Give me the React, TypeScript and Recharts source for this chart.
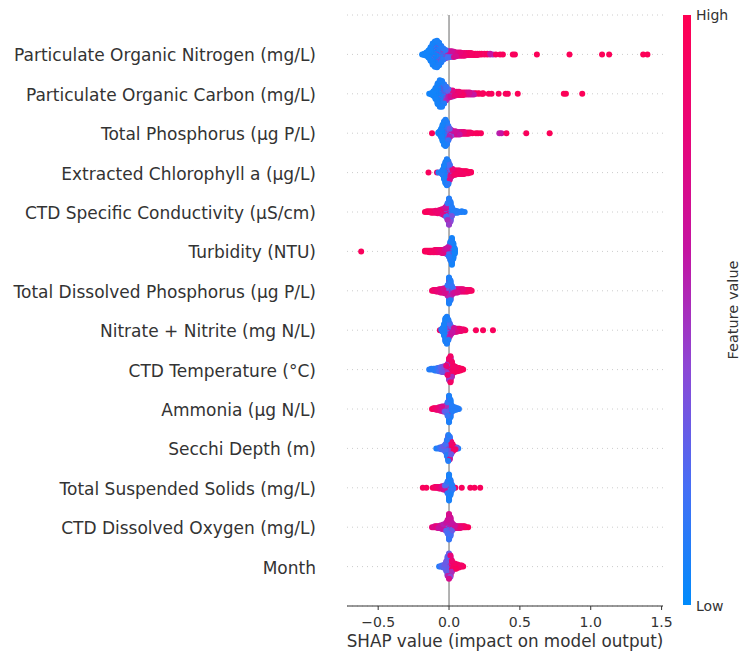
// SHAP summary (beeswarm) plot of water-quality features, drawn with Recharts.

import { ScatterChart, Scatter, XAxis, YAxis, CartesianGrid, ReferenceLine, Label } from "recharts";

const FEATURES = [
  "Particulate Organic Nitrogen (mg/L)",
  "Particulate Organic Carbon (mg/L)",
  "Total Phosphorus (µg P/L)",
  "Extracted Chlorophyll a (µg/L)",
  "CTD Specific Conductivity (µS/cm)",
  "Turbidity (NTU)",
  "Total Dissolved Phosphorus (µg P/L)",
  "Nitrate + Nitrite (mg N/L)",
  "CTD Temperature (°C)",
  "Ammonia (µg N/L)",
  "Secchi Depth (m)",
  "Total Suspended Solids (mg/L)",
  "CTD Dissolved Oxygen (mg/L)",
  "Month",
];

const X_TICKS = [-0.5, 0, 0.5, 1, 1.5];

// Each entry: [SHAP value, number of samples at that value, feature value 0 (low) .. 1 (high)]
type Bin = [number, number, number];

const PON: Bin[] = [
  [-0.19, 1, 0.05], [-0.175, 3, 0.05], [-0.16, 6, 0.05], [-0.145, 12, 0.05],
  [-0.13, 20, 0.06], [-0.13, 2, 0.3], [-0.115, 30, 0.06], [-0.115, 4, 0.35],
  [-0.1, 36, 0.06], [-0.1, 4, 0.4], [-0.085, 38, 0.07], [-0.085, 4, 0.4],
  [-0.07, 32, 0.08], [-0.07, 4, 0.45], [-0.055, 22, 0.1], [-0.055, 4, 0.45],
  [-0.04, 14, 0.12], [-0.04, 4, 0.5], [-0.025, 10, 0.15], [-0.025, 4, 0.5],
  [-0.01, 6, 0.2], [-0.01, 5, 0.55], [0.005, 4, 0.3], [0.005, 6, 0.6],
  [0.02, 3, 0.35], [0.02, 7, 0.65], [0.035, 2, 0.4], [0.035, 7, 0.7],
  [0.05, 7, 0.7], [0.065, 6, 0.75], [0.08, 6, 0.8], [0.095, 5, 0.8],
  [0.11, 5, 0.85], [0.125, 4, 0.85], [0.14, 4, 0.9], [0.155, 4, 0.9],
  [0.17, 3, 0.9], [0.185, 3, 0.95], [0.2, 3, 0.9], [0.215, 2, 0.95],
  [0.23, 2, 0.95], [0.25, 2, 0.9], [0.27, 2, 0.95], [0.29, 2, 0.6],
  [0.31, 1, 0.5], [0.33, 1, 0.95], [0.36, 1, 0.95], [0.38, 1, 0.95],
  [0.45, 1, 0.95], [0.465, 1, 0.95], [0.62, 1, 0.97], [0.85, 1, 0.97],
  [1.08, 1, 0.97], [1.13, 1, 0.97], [1.37, 1, 0.97], [1.4, 1, 0.97],
];

const POC: Bin[] = [
  [-0.14, 1, 0.05], [-0.125, 3, 0.05], [-0.11, 8, 0.05], [-0.095, 18, 0.06],
  [-0.08, 30, 0.06], [-0.08, 3, 0.35], [-0.065, 38, 0.07], [-0.065, 4, 0.4],
  [-0.05, 36, 0.08], [-0.05, 5, 0.45], [-0.035, 26, 0.1], [-0.035, 5, 0.5],
  [-0.02, 16, 0.15], [-0.02, 6, 0.5], [-0.005, 8, 0.25], [-0.005, 6, 0.55],
  [0.01, 4, 0.35], [0.01, 7, 0.65], [0.025, 3, 0.4], [0.025, 7, 0.75],
  [0.04, 7, 0.8], [0.055, 6, 0.85], [0.07, 6, 0.85], [0.085, 5, 0.9],
  [0.1, 5, 0.9], [0.115, 4, 0.85], [0.13, 4, 0.75], [0.145, 4, 0.7],
  [0.16, 3, 0.65], [0.175, 3, 0.6], [0.19, 2, 0.95], [0.21, 2, 0.95],
  [0.23, 1, 0.95], [0.24, 2, 0.95], [0.28, 1, 0.95], [0.3, 1, 0.95],
  [0.35, 1, 0.95], [0.4, 1, 0.95], [0.415, 1, 0.95], [0.485, 1, 0.97],
  [0.81, 1, 0.97], [0.825, 1, 0.97], [0.94, 1, 0.97],
];

const TP: Bin[] = [
  [-0.12, 1, 0.95], [-0.075, 2, 0.05], [-0.065, 6, 0.05], [-0.055, 14, 0.06],
  [-0.045, 24, 0.06], [-0.045, 2, 0.4], [-0.035, 34, 0.07], [-0.035, 3, 0.4],
  [-0.025, 38, 0.08], [-0.025, 4, 0.45], [-0.015, 30, 0.1], [-0.015, 5, 0.45],
  [-0.005, 18, 0.15], [-0.005, 5, 0.5], [0.005, 8, 0.3], [0.005, 6, 0.55],
  [0.015, 3, 0.4], [0.015, 7, 0.6], [0.03, 6, 0.6], [0.045, 6, 0.65],
  [0.06, 5, 0.7], [0.075, 5, 0.6], [0.09, 4, 0.75], [0.105, 4, 0.8],
  [0.12, 3, 0.85], [0.135, 3, 0.9], [0.15, 2, 0.9], [0.165, 1, 0.95],
  [0.19, 1, 0.95], [0.205, 1, 0.95], [0.225, 1, 0.95], [0.355, 1, 0.55],
  [0.37, 1, 0.6], [0.405, 1, 0.95], [0.545, 1, 0.95], [0.71, 1, 0.97],
];

const CHLA: Bin[] = [
  [-0.145, 1, 0.95], [-0.085, 1, 0.85], [-0.075, 1, 0.1], [-0.055, 3, 0.1],
  [-0.045, 8, 0.08], [-0.035, 18, 0.07], [-0.035, 2, 0.5], [-0.025, 28, 0.07],
  [-0.025, 3, 0.5], [-0.015, 34, 0.08], [-0.015, 4, 0.55], [-0.005, 28, 0.12],
  [-0.005, 5, 0.6], [0.005, 16, 0.2], [0.005, 6, 0.7], [0.015, 6, 0.3],
  [0.015, 7, 0.75], [0.025, 3, 0.4], [0.025, 7, 0.8], [0.035, 7, 0.85],
  [0.045, 7, 0.9], [0.055, 6, 0.9], [0.065, 6, 0.9], [0.075, 6, 0.9],
  [0.085, 5, 0.9], [0.095, 5, 0.9], [0.105, 5, 0.9], [0.115, 4, 0.95],
  [0.125, 4, 0.95], [0.135, 3, 0.9], [0.145, 2, 0.95], [0.155, 2, 0.95],
];

const COND: Bin[] = [
  [-0.17, 1, 0.95], [-0.155, 2, 0.95], [-0.14, 2, 0.95], [-0.125, 3, 0.9],
  [-0.11, 3, 0.9], [-0.095, 4, 0.85], [-0.08, 5, 0.85], [-0.065, 4, 0.8],
  [-0.065, 2, 0.6], [-0.05, 5, 0.8], [-0.05, 3, 0.5], [-0.04, 6, 0.75],
  [-0.04, 3, 0.4], [-0.03, 8, 0.7], [-0.03, 4, 0.3], [-0.02, 10, 0.6],
  [-0.02, 6, 0.2], [-0.01, 12, 0.5], [-0.01, 14, 0.15], [0, 12, 0.45],
  [0, 28, 0.1], [0.01, 8, 0.4], [0.01, 22, 0.1], [0.02, 4, 0.35],
  [0.02, 10, 0.1], [0.03, 6, 0.1], [0.045, 4, 0.1], [0.06, 3, 0.1],
  [0.075, 1, 0.08], [0.09, 2, 0.08], [0.11, 1, 0.08],
];

const TURB: Bin[] = [
  [-0.62, 1, 0.95], [-0.17, 2, 0.95], [-0.16, 2, 0.95], [-0.15, 2, 0.95],
  [-0.14, 3, 0.95], [-0.13, 3, 0.95], [-0.12, 3, 0.9], [-0.11, 3, 0.9],
  [-0.1, 4, 0.9], [-0.09, 4, 0.9], [-0.08, 4, 0.85], [-0.07, 4, 0.85],
  [-0.06, 4, 0.8], [-0.05, 5, 0.8], [-0.04, 5, 0.75], [-0.03, 6, 0.7],
  [-0.02, 6, 0.65], [-0.02, 2, 0.3], [-0.01, 6, 0.6], [-0.01, 4, 0.2],
  [0, 5, 0.5], [0, 10, 0.12], [0.01, 4, 0.4], [0.01, 22, 0.08],
  [0.02, 3, 0.35], [0.02, 34, 0.06], [0.03, 2, 0.3], [0.03, 20, 0.06],
  [0.04, 8, 0.06],
];

const TDP: Bin[] = [
  [-0.12, 1, 0.9], [-0.11, 2, 0.9], [-0.1, 2, 0.85], [-0.09, 3, 0.85],
  [-0.08, 3, 0.8], [-0.07, 4, 0.8], [-0.06, 5, 0.75], [-0.05, 5, 0.75],
  [-0.04, 5, 0.7], [-0.04, 1, 0.4], [-0.03, 5, 0.7], [-0.03, 2, 0.4],
  [-0.02, 4, 0.6], [-0.02, 4, 0.3], [-0.01, 4, 0.55], [-0.01, 10, 0.15],
  [0, 4, 0.5], [0, 30, 0.08], [0.01, 4, 0.5], [0.01, 22, 0.1],
  [0.02, 4, 0.55], [0.02, 8, 0.15], [0.03, 5, 0.6], [0.03, 2, 0.3],
  [0.04, 5, 0.65], [0.05, 5, 0.65], [0.06, 5, 0.7], [0.07, 4, 0.75],
  [0.08, 4, 0.75], [0.09, 4, 0.8], [0.1, 4, 0.8], [0.11, 3, 0.85],
  [0.12, 3, 0.85], [0.13, 3, 0.9], [0.14, 2, 0.9], [0.15, 2, 0.9],
  [0.16, 1, 0.95],
];

const NOX: Bin[] = [
  [-0.065, 1, 0.9], [-0.055, 2, 0.1], [-0.045, 6, 0.08], [-0.035, 16, 0.07],
  [-0.025, 30, 0.07], [-0.025, 2, 0.4], [-0.015, 34, 0.08], [-0.015, 3, 0.45],
  [-0.005, 24, 0.1], [-0.005, 4, 0.5], [0.005, 12, 0.2], [0.005, 6, 0.55],
  [0.015, 4, 0.3], [0.015, 7, 0.6], [0.025, 7, 0.6], [0.035, 6, 0.65],
  [0.045, 5, 0.7], [0.055, 5, 0.75], [0.065, 4, 0.8], [0.075, 4, 0.85],
  [0.085, 3, 0.85], [0.095, 2, 0.9], [0.105, 2, 0.9], [0.115, 1, 0.95],
  [0.19, 1, 0.95], [0.24, 1, 0.95], [0.31, 1, 0.95],
];

const TEMP: Bin[] = [
  [-0.14, 1, 0.1], [-0.125, 2, 0.1], [-0.11, 2, 0.1], [-0.1, 3, 0.1],
  [-0.09, 3, 0.12], [-0.08, 4, 0.15], [-0.07, 4, 0.2], [-0.07, 1, 0.6],
  [-0.06, 5, 0.25], [-0.06, 1, 0.6], [-0.05, 5, 0.3], [-0.05, 2, 0.65],
  [-0.04, 5, 0.35], [-0.04, 3, 0.7], [-0.03, 4, 0.4], [-0.03, 4, 0.75],
  [-0.02, 4, 0.45], [-0.02, 6, 0.8], [-0.01, 5, 0.5], [-0.01, 10, 0.85],
  [0, 8, 0.45], [0, 20, 0.85], [0.01, 8, 0.4], [0.01, 26, 0.9],
  [0.02, 6, 0.5], [0.02, 14, 0.9], [0.03, 10, 0.9], [0.04, 8, 0.9],
  [0.05, 6, 0.9], [0.06, 5, 0.95], [0.07, 4, 0.95], [0.08, 3, 0.95],
  [0.09, 2, 0.95], [0.1, 1, 0.95],
];

const NH3: Bin[] = [
  [-0.12, 1, 0.95], [-0.11, 2, 0.95], [-0.1, 2, 0.9], [-0.09, 3, 0.85],
  [-0.08, 3, 0.85], [-0.07, 4, 0.8], [-0.06, 4, 0.75], [-0.06, 1, 0.4],
  [-0.05, 4, 0.7], [-0.05, 2, 0.4], [-0.04, 4, 0.6], [-0.04, 3, 0.35],
  [-0.03, 3, 0.55], [-0.03, 4, 0.3], [-0.02, 3, 0.5], [-0.02, 6, 0.25],
  [-0.01, 3, 0.5], [-0.01, 14, 0.15], [0, 3, 0.45], [0, 30, 0.08],
  [0.01, 2, 0.4], [0.01, 20, 0.08], [0.02, 8, 0.1], [0.03, 5, 0.1],
  [0.04, 4, 0.1], [0.05, 3, 0.1], [0.06, 2, 0.1], [0.07, 1, 0.1],
];

const SECCHI: Bin[] = [
  [-0.09, 1, 0.08], [-0.075, 1, 0.1], [-0.065, 2, 0.15], [-0.055, 3, 0.2],
  [-0.045, 4, 0.25], [-0.035, 5, 0.3], [-0.035, 1, 0.7], [-0.025, 8, 0.2],
  [-0.025, 2, 0.6], [-0.015, 16, 0.12], [-0.015, 4, 0.55], [-0.005, 26, 0.1],
  [-0.005, 6, 0.5], [0.005, 20, 0.15], [0.005, 8, 0.7], [0.015, 8, 0.3],
  [0.015, 8, 0.85], [0.025, 4, 0.5], [0.025, 6, 0.9], [0.035, 5, 0.9],
  [0.045, 3, 0.85], [0.055, 2, 0.3], [0.065, 1, 0.1],
];

const TSS: Bin[] = [
  [-0.185, 1, 0.95], [-0.16, 1, 0.95], [-0.115, 1, 0.95], [-0.1, 2, 0.9],
  [-0.09, 2, 0.9], [-0.08, 2, 0.85], [-0.07, 3, 0.85], [-0.06, 3, 0.8],
  [-0.05, 3, 0.75], [-0.05, 1, 0.4], [-0.04, 3, 0.7], [-0.04, 2, 0.4],
  [-0.03, 3, 0.65], [-0.03, 3, 0.3], [-0.02, 2, 0.6], [-0.02, 6, 0.2],
  [-0.01, 2, 0.5], [-0.01, 14, 0.12], [0, 2, 0.5], [0, 32, 0.07],
  [0.01, 18, 0.08], [0.01, 2, 0.5], [0.02, 8, 0.1], [0.03, 3, 0.15],
  [0.045, 1, 0.9], [0.09, 1, 0.95], [0.15, 1, 0.95], [0.18, 1, 0.95],
  [0.22, 1, 0.95],
];

const DO: Bin[] = [
  [-0.12, 1, 0.8], [-0.11, 1, 0.75], [-0.1, 2, 0.7], [-0.09, 2, 0.8],
  [-0.08, 3, 0.7], [-0.07, 3, 0.6], [-0.06, 4, 0.65], [-0.05, 4, 0.6],
  [-0.05, 1, 0.3], [-0.04, 4, 0.55], [-0.04, 2, 0.3], [-0.03, 4, 0.6],
  [-0.03, 3, 0.3], [-0.02, 6, 0.6], [-0.02, 4, 0.25], [-0.01, 10, 0.65],
  [-0.01, 6, 0.2], [0, 16, 0.7], [0, 14, 0.15], [0.01, 12, 0.65],
  [0.01, 10, 0.2], [0.02, 6, 0.6], [0.02, 4, 0.3], [0.03, 4, 0.6],
  [0.03, 2, 0.3], [0.04, 4, 0.65], [0.05, 3, 0.7], [0.06, 3, 0.75],
  [0.07, 3, 0.7], [0.08, 3, 0.8], [0.09, 2, 0.85], [0.1, 2, 0.85],
  [0.11, 2, 0.9], [0.12, 1, 0.9], [0.135, 1, 0.95],
];

const MONTH: Bin[] = [
  [-0.07, 1, 0.1], [-0.06, 1, 0.15], [-0.05, 2, 0.2], [-0.04, 3, 0.25],
  [-0.03, 4, 0.3], [-0.02, 8, 0.3], [-0.02, 2, 0.6], [-0.01, 14, 0.25],
  [-0.01, 6, 0.55], [0, 14, 0.3], [0, 12, 0.7], [0.01, 8, 0.4],
  [0.01, 14, 0.8], [0.02, 4, 0.5], [0.02, 8, 0.85], [0.03, 6, 0.9],
  [0.04, 6, 0.9], [0.05, 5, 0.95], [0.06, 4, 0.9], [0.07, 3, 0.9],
  [0.08, 2, 0.95], [0.09, 2, 0.9], [0.1, 1, 0.95],
];

const ROWS: Bin[][] = [PON, POC, TP, CHLA, COND, TURB, TDP, NOX, TEMP, NH3, SECCHI, TSS, DO, MONTH];

// shap's red_blue colormap, low -> high
const CMAP: [number, number, number, number][] = [
  [0, 0, 139, 251],
  [0.2, 70, 110, 245],
  [0.4, 140, 72, 214],
  [0.6, 196, 20, 162],
  [0.8, 232, 5, 120],
  [1, 255, 0, 82],
];

function cmap(v: number) {
  for (let i = 1; i < CMAP.length; i++) {
    const [t1, r1, g1, b1] = CMAP[i];
    const [t0, r0, g0, b0] = CMAP[i - 1];
    if (v <= t1) {
      const f = (v - t0) / (t1 - t0);
      const r = Math.round(r0 + (r1 - r0) * f);
      const g = Math.round(g0 + (g1 - g0) * f);
      const b = Math.round(b0 + (b1 - b0) * f);
      return `rgb(${r},${g},${b})`;
    }
  }
  return "rgb(255,0,82)";
}

type Pt = { x: number; y: number; fill: string };

// beeswarm layout like shap: stack samples sharing a value, alternating up/down
function swarm(bins: Bin[], pos: number): Pt[] {
  const groups = new Map<number, { x: number; c: number; r: number }[]>();
  bins.forEach(([x, n, c]) => {
    const g = groups.get(x) ?? [];
    for (let k = 0; k < n; k++) g.push({ x, c, r: (k + 0.5) / n });
    groups.set(x, g);
  });
  let maxLayer = 0;
  const pts: { x: number; c: number; r: number; ys: number }[] = [];
  groups.forEach((g) => {
    g.sort((a, b) => a.r - b.r);
    g.forEach((p, layer) => {
      const ys = Math.ceil(layer / 2) * ((layer % 2) * 2 - 1);
      maxLayer = Math.max(maxLayer, ys);
      pts.push({ ...p, ys });
    });
  });
  const scale = (0.9 * 0.4) / (maxLayer + 1);
  return pts
    .sort((a, b) => a.r - b.r)
    .map((p) => ({ x: p.x, y: pos + p.ys * scale, fill: cmap(p.c) }));
}

const FONT = "DejaVu Sans";
const TEXT = "#333333";

function Dot(props: any) {
  const { cx, cy, payload } = props;
  if (cx == null || cy == null) return null;
  return <circle cx={cx} cy={cy} r={3} fill={payload.fill} />;
}

function FeatureTick(props: any) {
  const { x, y, payload } = props;
  return (
    <text x={x} y={y + 1} dy="0.355em" textAnchor="end" fontSize={17} fill={TEXT} fontFamily={FONT}>
      {FEATURES[FEATURES.length - 1 - payload.value]}
    </text>
  );
}

const fmt = (v: number) => (v < 0 ? "\u2212" + Math.abs(v).toFixed(1) : v.toFixed(1));

export default function App() {
  const n = FEATURES.length;
  const series = ROWS.map((bins, i) => swarm(bins, n - 1 - i));
  const rowTicks = FEATURES.map((_, i) => i);

  return (
    <div style={{ position: "absolute", left: 0, top: 0, width: 742, height: 654, background: "#fff" }}>
      <ScatterChart
        width={742}
        height={654}
        margin={{ top: 15, right: 79, bottom: 0, left: 0 }}
        style={{ fontFamily: FONT }}
      >
        <CartesianGrid horizontal vertical={false} stroke="#cccccc" strokeDasharray="1 4" />
        <XAxis
          type="number"
          dataKey="x"
          domain={[-0.72, 1.51]}
          ticks={X_TICKS}
          allowDataOverflow
          tickFormatter={fmt}
          stroke={TEXT}
          tickSize={4}
          tickMargin={7}
          height={48}
          tick={{ fontSize: 14, fill: TEXT, fontFamily: FONT }}
        >
          <Label
            value="SHAP value (impact on model output)"
            position="insideBottom"
            offset={7}
            style={{ fontSize: 16.8, fill: TEXT, fontFamily: FONT }}
          />
        </XAxis>
        <YAxis
          type="number"
          dataKey="y"
          domain={[-1, n]}
          ticks={rowTicks}
          allowDataOverflow
          axisLine={false}
          tickLine={false}
          tickSize={0}
          tickMargin={31}
          width={347}
          tick={<FeatureTick />}
        />
        <ReferenceLine x={0} stroke="#999999" strokeWidth={1.5} />
        {series.map((data, i) => (
          <Scatter key={FEATURES[i]} data={data} shape={<Dot />} isAnimationActive={false} />
        ))}
      </ScatterChart>
      <svg width={742} height={654} style={{ position: "absolute", left: 0, top: 0, pointerEvents: "none" }}>
        <defs>
          <linearGradient id="fv" x1="0" y1="1" x2="0" y2="0">
            {CMAP.map(([t, r, g, b]) => (
              <stop key={t} offset={`${t * 100}%`} stopColor={`rgb(${r},${g},${b})`} />
            ))}
          </linearGradient>
        </defs>
        <rect x={683} y={15} width={8} height={590} fill="url(#fv)" />
        <text x={696} y={15} dy="0.355em" fontSize={14} fill={TEXT} fontFamily={FONT}>High</text>
        <text x={696} y={606} dy="0.355em" fontSize={14} fill={TEXT} fontFamily={FONT}>Low</text>
        <text
          x={738}
          y={310}
          transform="rotate(-90 738 310)"
          textAnchor="middle"
          fontSize={14.5}
          fill={TEXT}
          fontFamily={FONT}
        >
          Feature value
        </text>
      </svg>
    </div>
  );
}
